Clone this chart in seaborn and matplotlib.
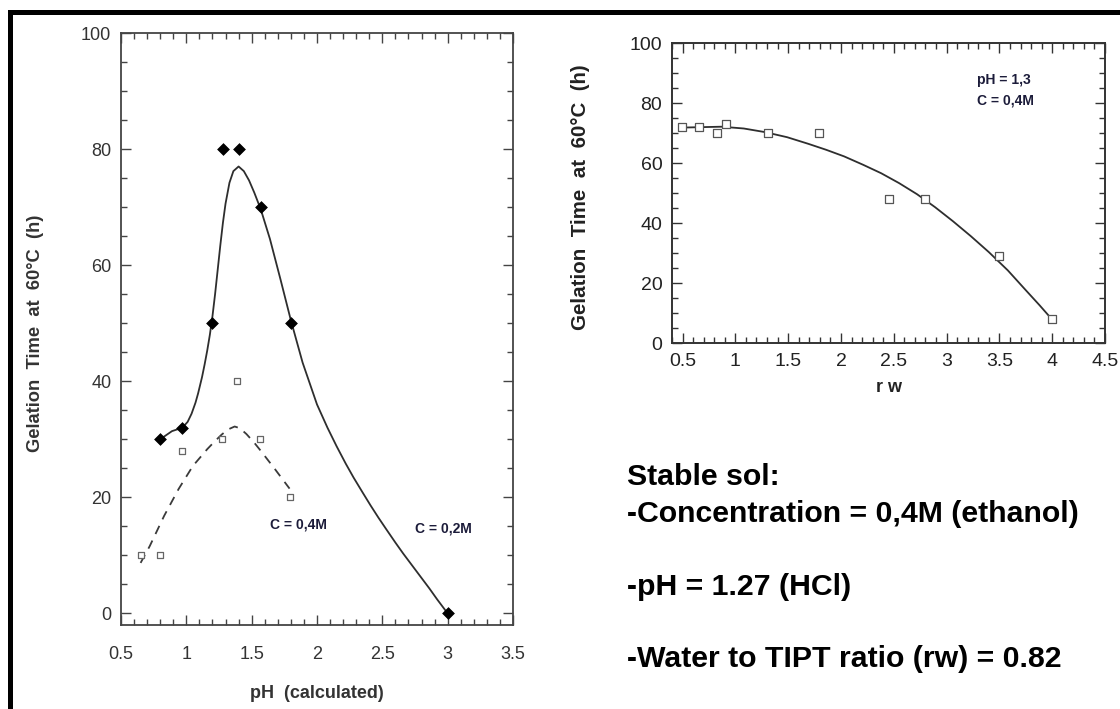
import matplotlib
matplotlib.use("Agg")
import matplotlib.pyplot as plt
from matplotlib.patches import Rectangle
from matplotlib.ticker import MultipleLocator
import seaborn as sns

# ---------------- data ----------------
# Left panel: gelation time vs pH
ph_c02 = [0.80, 0.97, 1.20, 1.28, 1.40, 1.57, 1.80, 3.00]
gt_c02 = [30, 32, 50, 80, 80, 70, 50, 0]

ph_c04 = [0.65, 0.80, 0.97, 1.27, 1.39, 1.56, 1.79]
gt_c04 = [10, 10, 28, 30, 40, 30, 20]

# fitted curve for C = 0,2M
fit02_x = [0.80, 0.89, 0.97, 1.01, 1.04, 1.07, 1.09, 1.12, 1.14, 1.16, 1.18, 1.20,
           1.22, 1.24, 1.26, 1.28, 1.30, 1.33, 1.36, 1.40, 1.44, 1.48, 1.52,
           1.57, 1.64, 1.72, 1.80, 1.89, 2.00, 2.08, 2.15, 2.22, 2.28, 2.35,
           2.41, 2.47, 2.53, 2.60, 2.66, 2.72, 2.79, 2.86, 2.92, 3.00]
fit02_y = [30, 31.4, 32, 33.0, 34.4, 36.3, 37.9, 40.7, 42.9, 45.3, 48.0, 51.2,
           55.0, 59.2, 63.4, 67.3, 70.6, 74.2, 76.2, 77.0, 76.2, 74.6, 72.5,
           69.6, 64.5, 57.6, 50.5, 43.2, 36.0, 32.0, 28.8, 25.8, 23.4, 20.8,
           18.6, 16.5, 14.5, 12.2, 10.3, 8.5, 6.4, 4.3, 2.4, 0]

# fitted (dashed) curve for C = 0,4M
fit04_x = [0.65, 0.72, 0.83, 0.94, 1.05, 1.16, 1.22, 1.27, 1.32, 1.37, 1.41,
           1.46, 1.52, 1.57, 1.68, 1.79]
fit04_y = [8.7, 11.6, 16.8, 21.4, 25.4, 28.3, 29.7, 30.8, 31.7, 32.2, 31.9,
           30.9, 29.4, 28.0, 24.8, 21.5]

# Right panel: gelation time vs rw
rw = [0.49, 0.66, 0.83, 0.91, 1.31, 1.79, 2.45, 2.80, 3.50, 4.00]
gt_rw = [72, 72, 70, 73, 70, 70, 48, 48, 29, 8]

fitrw_x = [0.49, 0.87, 1.08, 1.28, 1.49, 1.69, 1.86, 2.03, 2.21, 2.38, 2.55,
           2.72, 2.89, 3.06, 3.23, 3.40, 3.58, 3.75, 3.88, 4.00]
fitrw_y = [71.8, 72.1, 71.5, 70.3, 68.6, 66.4, 64.4, 62.2, 59.4, 56.6, 53.3,
           49.6, 45.3, 40.6, 35.6, 30.3, 24.2, 17.6, 12.6, 7.8]

left_xticks = [0.5, 1, 1.5, 2, 2.5, 3, 3.5]
left_xticklabels = ["0.5", "1", "1.5", "2", "2.5", "3", "3.5"]
left_yticks = [0, 20, 40, 60, 80, 100]
right_xticks = [0.5, 1, 1.5, 2, 2.5, 3, 3.5, 4, 4.5]
right_xticklabels = ["0.5", "1", "1.5", "2", "2.5", "3", "3.5", "4", "4.5"]
right_yticks = [0, 20, 40, 60, 80, 100]

ylabel_text = "Gelation  Time  at  60\u00b0C  (h)"
left_xlabel = "pH  (calculated)"
right_xlabel = "r w"
notes = ["Stable sol:",
         "-Concentration = 0,4M (ethanol)",
         "-pH = 1.27 (HCl)",
         "-Water to TIPT ratio (rw) = 0.82"]

# ---------------- style ----------------
sns.set_style("ticks")
plt.rcParams["font.family"] = ["Liberation Sans", "DejaVu Sans"]

W, H = 1120, 709
fig = plt.figure(figsize=(W / 100, H / 100), dpi=100)
fig.patch.set_facecolor("white")

def fx(px):
    return px / W

def fy(py):
    return 1 - py / H

axL = fig.add_axes([fx(121), fy(625), fx(513) - fx(121), fy(33) - fy(625)])
axR = fig.add_axes([fx(672), fy(343), fx(1105) - fx(672), fy(43) - fy(343)])

line_col = "#2e2e2e"
spine_col = "#444444"

# ---- left panel ----
sns.lineplot(x=fit02_x, y=fit02_y, sort=False, ax=axL, color=line_col, lw=1.3)
sns.lineplot(x=fit04_x, y=fit04_y, sort=False, ax=axL, color="#3a3a3a", lw=1.3,
             linestyle=(0, (5, 4)))
sns.scatterplot(x=ph_c02, y=gt_c02, ax=axL, marker="D", color="black", s=36,
                edgecolor="black", linewidth=0.5, zorder=5)
sns.scatterplot(x=ph_c04, y=gt_c04, ax=axL, marker="s", facecolor="white",
                edgecolor="#666666", linewidth=0.9, s=24, zorder=5)

axL.set_xlim(0.5, 3.5)
axL.set_ylim(-2, 100)
axL.set_xticks(left_xticks)
axL.set_xticklabels(left_xticklabels)
axL.set_yticks(left_yticks)
axL.xaxis.set_minor_locator(MultipleLocator(0.1))
axL.yaxis.set_minor_locator(MultipleLocator(5))
axL.tick_params(which="both", direction="in", top=True, right=True, color=spine_col,
                width=1.0)
axL.tick_params(which="major", length=7)
axL.tick_params(which="minor", length=4)
axL.tick_params(axis="x", which="major", pad=15, labelsize=13, labelcolor="#333333")
axL.tick_params(axis="y", which="major", pad=7, labelsize=13, labelcolor="#333333")
for s in axL.spines.values():
    s.set_color(spine_col)
    s.set_linewidth(1.3)

axL.set_ylabel(ylabel_text, fontsize=13.2, fontweight="bold", color="#333333", va="center")
axL.yaxis.set_label_coords((36 - 121) / 392, 0.493)
axL.set_xlabel(left_xlabel, fontsize=13, fontweight="bold", color="#333333", va="center")
axL.xaxis.set_label_coords(0.5, (625 - 693) / 592)

axL.text(1.86, 15.4, "C = 0,4M", fontsize=10, fontweight="bold", color="#1c1c3a",
         ha="center", va="center")
axL.text(2.97, 14.7, "C = 0,2M", fontsize=10, fontweight="bold", color="#1c1c3a",
         ha="center", va="center")

# ---- right panel ----
sns.lineplot(x=fitrw_x, y=fitrw_y, sort=False, ax=axR, color=line_col, lw=1.3)
sns.scatterplot(x=rw, y=gt_rw, ax=axR, marker="s", facecolor="white",
                edgecolor="#555555", linewidth=0.9, s=26, zorder=5)

axR.set_xlim(0.4, 4.5)
axR.set_ylim(0, 100)
axR.set_xticks(right_xticks)
axR.set_xticklabels(right_xticklabels)
axR.set_yticks(right_yticks)
axR.xaxis.set_minor_locator(MultipleLocator(0.1))
axR.yaxis.set_minor_locator(MultipleLocator(5))
axR.tick_params(which="both", direction="in", top=True, right=True, color="#333333",
                width=1.0)
axR.tick_params(which="major", length=7)
axR.tick_params(which="minor", length=4)
axR.tick_params(axis="both", which="major", pad=7, labelsize=14, labelcolor="#222222")
for s in axR.spines.values():
    s.set_color("#333333")
    s.set_linewidth(1.4)

axR.set_ylabel(ylabel_text, fontsize=14.8, fontweight="bold", color="#222222", va="center")
axR.yaxis.set_label_coords((581 - 672) / 433, 0.487)
axR.set_xlabel(right_xlabel, fontsize=13, fontweight="bold", color="#222222", va="center")
axR.xaxis.set_label_coords(0.5, (343 - 388) / 300)

axR.text(3.29, 87.7, "pH = 1,3", fontsize=10, fontweight="bold", color="#1c1c3a",
         ha="left", va="center")
axR.text(3.29, 80.7, "C = 0,4M", fontsize=10, fontweight="bold", color="#1c1c3a",
         ha="left", va="center")

# ---- text block ----
baselines = [485, 521.7, 595, 666.7]
for txt, b in zip(notes, baselines):
    fig.text(fx(627), fy(b), txt, fontsize=21.8, fontweight="bold", color="black",
             ha="left", va="baseline")

# ---- frame ----
fig.add_artist(Rectangle((fx(8), fy(15)), 1 - fx(8), fy(10) - fy(15),
                         transform=fig.transFigure, color="black", lw=0))
fig.add_artist(Rectangle((fx(8), 0), fx(13) - fx(8), fy(10),
                         transform=fig.transFigure, color="black", lw=0))

fig.savefig("out.png", dpi=100)
